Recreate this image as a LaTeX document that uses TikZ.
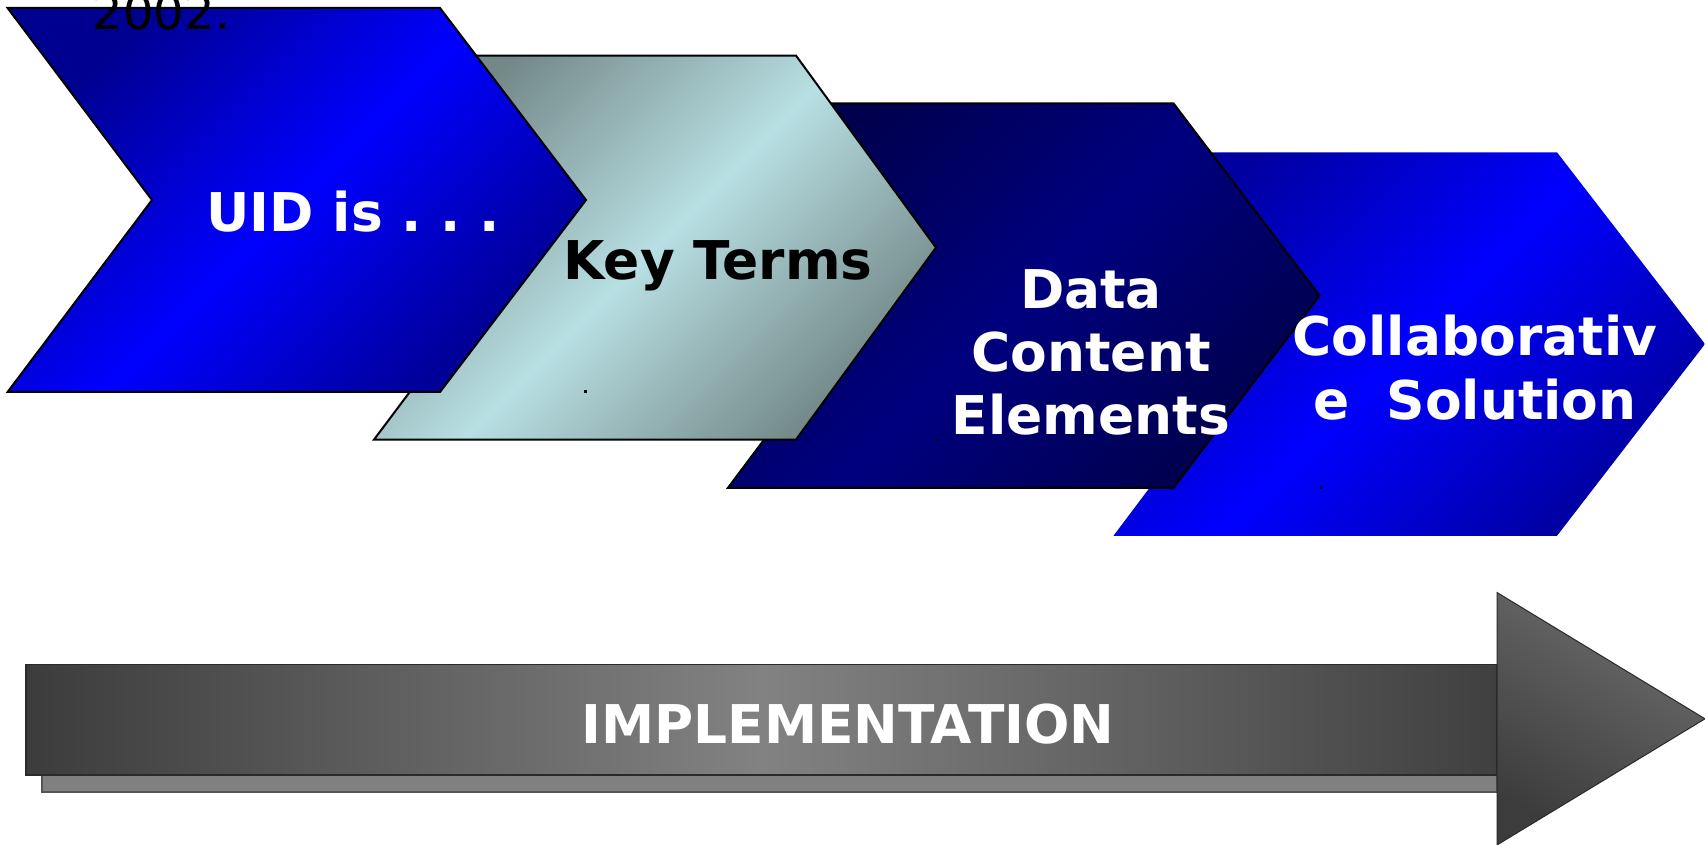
\documentclass[tikz,border=0pt]{standalone}
\usepackage{fontspec}
\setmainfont{DejaVu Sans}
\frenchspacing
\definecolor{cOneDark}{HTML}{000090}
\definecolor{cOneLight}{HTML}{0000FF}
\definecolor{cTwoDark}{HTML}{738888}
\definecolor{cTwoLight}{HTML}{B8DFE3}
\definecolor{cThreeDark}{HTML}{00004D}
\definecolor{cThreeLight}{HTML}{00007F}
\definecolor{cFourDark}{HTML}{0000A0}
\definecolor{cFourLight}{HTML}{0000FF}
\definecolor{barDark}{HTML}{3C3C3C}
\definecolor{barDarkR}{HTML}{404040}
\definecolor{barLight}{HTML}{828282}
\definecolor{shadowGray}{HTML}{808080}
\definecolor{edgeGray}{HTML}{2A2A2A}
\begin{document}
\begin{tikzpicture}[x=0.5pt,y=-0.5pt,
  chevline/.style={draw=black,line width=1pt,line join=miter},
  chevshade/.style 2 args={top color=#1,bottom color=#1,middle color=#2,shading angle=45},
  lbl/.style={font=\fontsize{26.7}{31.5}\selectfont\bfseries,inner sep=0pt,anchor=base},
  dotmark/.style={fill=black}]
\useasboundingbox (0,0) rectangle (1705,845);
% chevron 4
\path[chevshade={cFourDark}{cFourLight}]
  (1113.5,152.3) -- (1557,152.3) -- (1705,344) -- (1557,535.8) -- (1113.5,535.8) -- (1257.5,344) -- cycle;
% chevron 3
\path[chevline,chevshade={cThreeDark}{cThreeLight}]
  (728,103.4) -- (1173.5,103.4) -- (1319.5,295.6) -- (1173.5,487.8) -- (728,487.8) -- (872,295.6) -- cycle;
% chevron 2
\path[chevline,chevshade={cTwoDark}{cTwoLight}]
  (374,55.6) -- (796,55.6) -- (936,247.6) -- (796,439.6) -- (374,439.6) -- (518,247.6) -- cycle;
% chevron 1
\path[chevline,chevshade={cOneDark}{cOneLight}]
  (7.6,8) -- (440,8) -- (586,200) -- (440,392) -- (7.6,392) -- (152,200) -- cycle;
% tiny dots
\fill[dotmark] (584,390.5) rectangle (586.5,393);
\fill[dotmark] (935.5,439) rectangle (938,441.5);
\fill[dotmark] (1319.5,486.5) rectangle (1322,489);
% bottom arrow
\draw[draw=edgeGray!80,line width=0.6pt,fill=shadowGray] (42,775) rectangle (1497,792);
\draw[draw=edgeGray,line width=0.8pt,left color=barDark,right color=barDarkR,middle color=barLight] (26,664.3) rectangle (1497,775);
\path[draw=edgeGray,line width=0.5pt,top color=gray!85!black,bottom color=barDark,shading angle=-30]
  (1497,592.5) -- (1705,718.8) -- (1497,845) -- cycle;
% texts
\node[font=\fontsize{24}{28}\selectfont,inner sep=0pt,anchor=base west,text=black] (year) at (92.5,29.3) {2002.};
\node[lbl,text=white] (uid) at (353,231.7) {UID is . . .};
\node[lbl,text=black] (key) at (718,280) {Key Terms};
\node[lbl,text=white] (dataA) at (1091,308.3) {Data};
\node[lbl,text=white] (dataB) at (1091,371.7) {Content};
\node[lbl,text=white] (dataC) at (1091,435) {Elements};
\node[lbl,text=white] (collA) at (1475,356) {Collaborativ};
\node[lbl,text=white] (collB) at (1475,420) {e\ \ Solution};
\node[lbl,text=white] (impl) at (848,743.3) {IMPLEMENTATION};
\end{tikzpicture}
\end{document}
